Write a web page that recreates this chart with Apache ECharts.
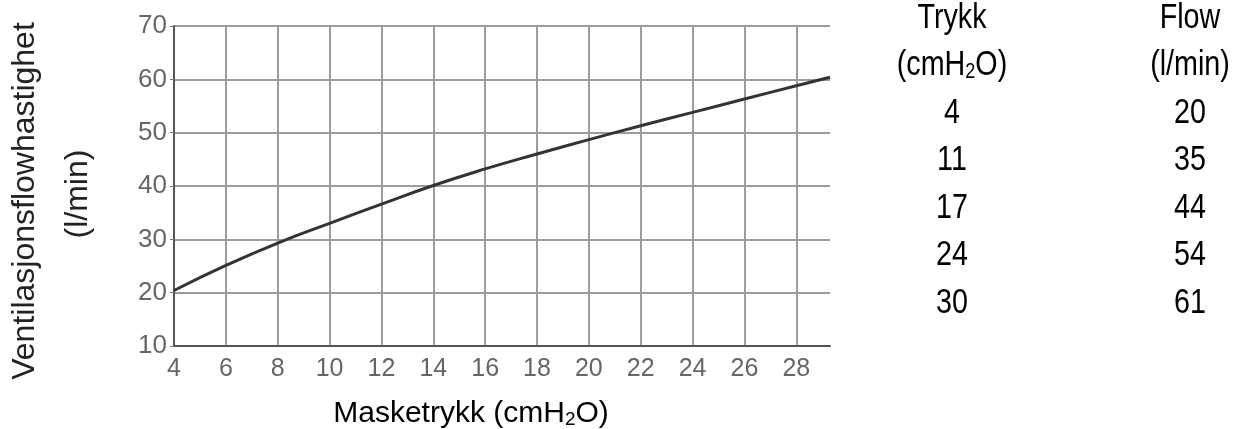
<!DOCTYPE html>
<html>
<head>
<meta charset="utf-8">
<script src="https://cdn.jsdelivr.net/npm/echarts@6/dist/echarts.min.js"></script>
<style>
html,body{margin:0;padding:0;background:#fff;}
#chart{width:1237px;height:429px;}
</style>
</head>
<body>
<div id="chart"></div>
<script>
// Curve data
var pressure = [4, 6, 8, 10, 12, 14, 16, 18, 20, 22, 24, 26, 28, 29.3];
var flow = [20.4, 25.1, 29.3, 33.0, 36.6, 40.1, 43.2, 46.0, 48.7, 51.3, 53.8, 56.3, 58.8, 60.4];

// Table on the right
var tablePressure = ['4', '11', '17', '24', '30'];
var tableFlow = ['20', '35', '44', '54', '61'];
var tableHeadPressure = ['Trykk', '(cmH{s|2}O)'];
var tableHeadFlow = ['Flow', '(l/min)'];

// Titles
var yTitle = ['Ventilasjonsflowhastighet', '(l/min)'];
var xTitle = '{a|Masketrykk (cmH}{s|2}{a|O)}';

var SANS = "'Liberation Sans', Arial, sans-serif";

var chart = echarts.init(document.getElementById('chart'));

var graphics = [];
// y-axis title (rotated)
graphics.push({
  type: 'text', x: 25, y: 201, rotation: Math.PI / 2,
  style: { text: yTitle[0], font: '32px ' + SANS, fill: '#222', textAlign: 'center', textVerticalAlign: 'middle' }
});
graphics.push({
  type: 'text', x: 78, y: 194, rotation: Math.PI / 2,
  style: { text: yTitle[1], font: '32px ' + SANS, fill: '#222', textAlign: 'center', textVerticalAlign: 'middle' }
});
// x-axis title
graphics.push({
  type: 'text', x: 471, y: 412,
  style: {
    text: xTitle, textAlign: 'center', textVerticalAlign: 'middle',
    rich: {
      a: { fontSize: 30, fontFamily: SANS, color: '#222', verticalAlign: 'bottom', lineHeight: 34 },
      s: { fontSize: 19, fontFamily: SANS, color: '#222', verticalAlign: 'bottom', lineHeight: 34 }
    }
  }
});

// Table (condensed look via horizontal scale)
var colX = [952, 1190];
var rowY0 = 15.5, rowStep = 47.5;
var richTable = {
  a: { fontSize: 35, fontFamily: SANS, color: '#222', verticalAlign: 'bottom', lineHeight: 40 },
  s: { fontSize: 22, fontFamily: SANS, color: '#222', verticalAlign: 'bottom', lineHeight: 40 }
};
function wrapRich(t) {
  return t.split(/(\{s\|[^}]*\})/).map(function (p) {
    if (!p) return '';
    if (p.indexOf('{s|') === 0) return p;
    return '{a|' + p + '}';
  }).join('');
}
var cols = [tableHeadPressure.concat(tablePressure), tableHeadFlow.concat(tableFlow)];
cols.forEach(function (col, ci) {
  col.forEach(function (txt, ri) {
    graphics.push({
      type: 'text', x: colX[ci], y: rowY0 + ri * rowStep, scaleX: 0.82,
      style: { text: wrapRich(txt), rich: richTable, textAlign: 'center', textVerticalAlign: 'middle' }
    });
  });
});

chart.setOption({
  backgroundColor: '#fff',
  animation: false,
  grid: { left: 174, right: 407, top: 26, bottom: 83, containLabel: false },
  xAxis: {
    type: 'value', min: 4, max: 29.3, interval: 2,
    axisLine: { show: true, lineStyle: { color: '#555', width: 2 } },
    axisTick: { show: false },
    axisLabel: { show: true, margin: 11, fontSize: 25, fontFamily: SANS, color: '#666', showMaxLabel: false },
    splitLine: { show: true, showMinLine: false, showMaxLine: false, lineStyle: { color: '#9c9c9c', width: 2 } }
  },
  yAxis: {
    type: 'value', min: 10, max: 70, interval: 10,
    axisLine: { show: true, lineStyle: { color: '#555', width: 2 } },
    axisTick: { show: true, length: 4, lineStyle: { color: '#777', width: 1 } },
    axisLabel: { margin: 7, fontSize: 26, fontFamily: SANS, color: '#666' },
    splitLine: { show: true, lineStyle: { color: '#9c9c9c', width: 2 } }
  },
  series: [{
    type: 'line',
    data: pressure.map(function (p, i) { return [p, flow[i]]; }),
    smooth: 0.5,
    showSymbol: false,
    lineStyle: { color: '#333', width: 3 },
    z: 5
  }],
  graphic: graphics
});
</script>
</body>
</html>
